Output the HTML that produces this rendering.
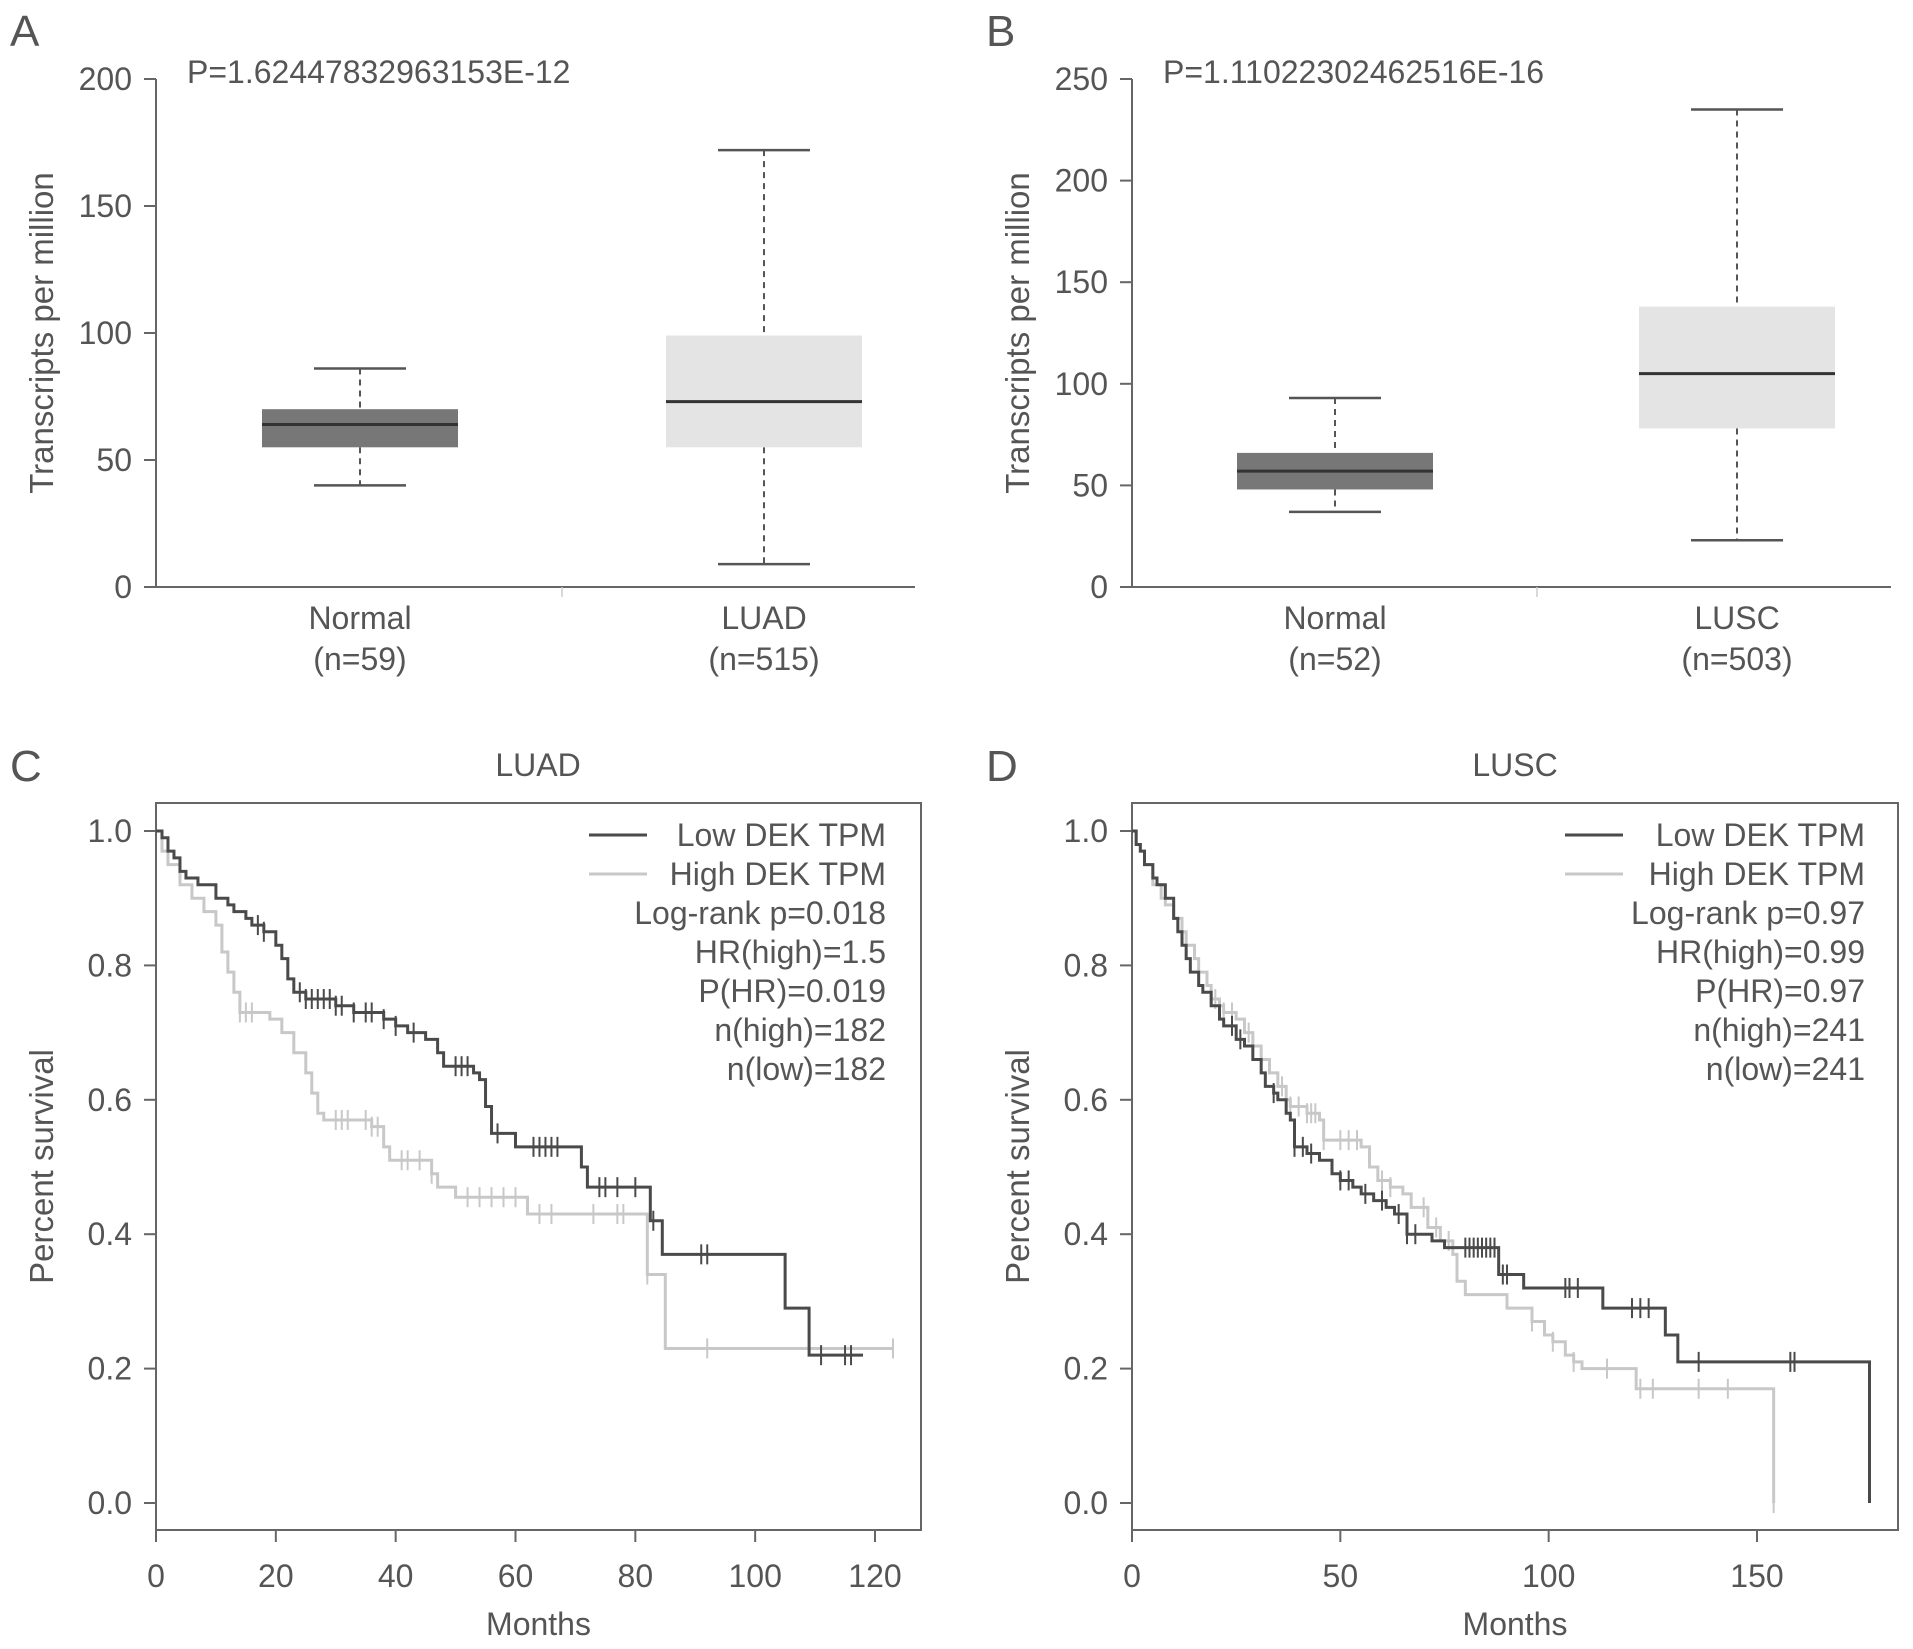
<!DOCTYPE html>
<html><head><meta charset="utf-8"><title>DEK expression and survival</title>
<style>
html,body{margin:0;padding:0;background:#fff;}
svg{display:block;font-family:"Liberation Sans",Arial,sans-serif;}
</style></head>
<body>
<svg id="fig" width="1913" height="1649" viewBox="0 0 1913 1649" xmlns="http://www.w3.org/2000/svg"></svg>
<script>
// ---------- DATA ----------
const boxCatsA = ["Normal", "LUAD"];
const boxNA = ["(n=59)", "(n=515)"];
const boxQ1A = [55, 55];
const boxMedA = [64, 73];
const boxQ3A = [70, 99];
const boxLoA = [40, 9];
const boxHiA = [86, 172];
const ticksA = [0, 50, 100, 150, 200];

const boxCatsB = ["Normal", "LUSC"];
const boxNB = ["(n=52)", "(n=503)"];
const boxQ1B = [48, 78];
const boxMedB = [57, 105];
const boxQ3B = [66, 138];
const boxLoB = [37, 23];
const boxHiB = [93, 235];
const ticksB = [0, 50, 100, 150, 200, 250];

const survTicks = [0, 0.2, 0.4, 0.6, 0.8, 1.0];
const monthTicksC = [0, 20, 40, 60, 80, 100, 120];
const monthTicksD = [0, 50, 100, 150];

const cLowT = [0,1,2,3,4,5,7,10,12,13,15,16,18,20,21,22,23,25,30,33,38,40,42,45,47,48,53,54,55,56,60,71,72,82.5,84.5,105,109];
const cLowS = [1,0.99,0.97,0.96,0.94,0.93,0.92,0.90,0.89,0.88,0.87,0.86,0.85,0.83,0.81,0.78,0.76,0.75,0.74,0.73,0.72,0.71,0.70,0.69,0.67,0.65,0.64,0.63,0.59,0.55,0.53,0.50,0.47,0.42,0.37,0.29,0.22];
const cLowEnd = 118;
const cLowCens = [17,18,24,25,26,27,28,29,30,31,33,35,36,38,40,43,50,51,52,57,63,64,65,66,67,74,75,77,80,83,91,92,111,115,116];

const cHighT = [0,1,2,4,6,8,10,11,12,13,14,19,21,23,25,26,27,28,36,38,39,46,47,50,62,82,85];
const cHighS = [1,0.97,0.95,0.92,0.90,0.88,0.86,0.82,0.79,0.76,0.73,0.72,0.70,0.67,0.64,0.61,0.58,0.57,0.56,0.53,0.51,0.49,0.47,0.455,0.43,0.34,0.23];
const cHighEnd = 123;
const cHighCens = [14,15,16,30,31,32,35,36,37,41,42,44,46,52,54,56,58,60,64,66,73,77,78,82,92,123];

const dLowT = [0,1,2,3,5,6,8,10,11,12,13,14,16,17,19,21,22,25,27,29,31,32,34,35,37,38,39,42,45,48,50,53,55,58,61,63,66,72,75,88,94,113,128,131,177];
const dLowS = [1,0.98,0.97,0.95,0.93,0.92,0.90,0.87,0.85,0.83,0.81,0.79,0.77,0.76,0.74,0.72,0.71,0.69,0.68,0.66,0.64,0.62,0.61,0.60,0.58,0.57,0.53,0.52,0.51,0.49,0.48,0.47,0.46,0.45,0.44,0.43,0.40,0.39,0.38,0.34,0.32,0.29,0.25,0.21,0];
const dLowEnd = 177;
const dLowCens = [24,26,34,39,41,43,50,52,56,60,64,66,68,80,81,82,83,84,85,86,87,89,90,104,105,107,120,122,124,136,158,159];

const dHighT = [0,1,2,3,5,7,8,10,12,13,15,16,18,19,21,22,25,27,29,31,33,35,37,38,42,45,46,55,57,59,62,65,67,71,74,77,78,80,90,96,99,101,104,106,108,121,154];
const dHighS = [1,0.98,0.97,0.95,0.92,0.90,0.89,0.87,0.85,0.83,0.81,0.79,0.77,0.75,0.74,0.73,0.72,0.70,0.68,0.66,0.64,0.62,0.60,0.59,0.58,0.57,0.54,0.53,0.50,0.48,0.47,0.46,0.44,0.41,0.39,0.37,0.33,0.31,0.29,0.27,0.25,0.24,0.22,0.21,0.20,0.17,0];
const dHighEnd = 154;
const dHighCens = [20,22,24,28,36,38,40,42,43,44,46,50,52,54,60,62,70,73,76,96,101,106,114,122,125,136,143,154];

const legC = ["Log-rank p=0.018","HR(high)=1.5","P(HR)=0.019","n(high)=182","n(low)=182"];
const legD = ["Log-rank p=0.97","HR(high)=0.99","P(HR)=0.97","n(high)=241","n(low)=241"];

// ---------- helpers ----------
const NS = "http://www.w3.org/2000/svg";
const svg = document.getElementById("fig");
const TXT = "#555", AX = "#666", DARK = "#4a4a4a", LIGHT = "#c8c8c8";
const FS = 32;
function el(tag, attrs, parent, text){
  const e = document.createElementNS(NS, tag);
  for (const k in attrs) e.setAttribute(k, attrs[k]);
  if (text !== undefined) e.textContent = text;
  (parent || svg).appendChild(e);
  return e;
}
function group(name){
  const g = el("g", {}, svg);
  
  
  return g;
}
function label(parent, name, x, y, txt, size, anchor, extra){
  const t = el("text", Object.assign({x:x, y:y, "font-size":size, fill:TXT, "text-anchor":anchor||"start"}, extra||{}), parent, txt);
  
  
  return t;
}

// ---------- box plot ----------
function boxPanel(o){
  const g = group(o.name);
  const y = v => o.y0 - (v / o.vmax) * (o.y0 - o.yTop);
  label(g, "panel-letter", o.letterX, 46, o.letter, 44);
  label(g, "p-value", o.pX, 83, o.pText, FS);
  const ax = el("line", {x1:o.ax, y1:y(o.vmax), x2:o.ax, y2:o.y0, stroke:AX, "stroke-width":2}, g);
  
  
  const xa = el("line", {x1:o.ax, y1:o.y0, x2:o.axEnd, y2:o.y0, stroke:AX, "stroke-width":2}, g);
  
  
  el("line", {x1:o.sep, y1:o.y0, x2:o.sep, y2:o.y0+10, stroke:"#ccc", "stroke-width":1.5}, g);
  o.ticks.forEach(t => {
    el("line", {x1:o.ax-12, y1:y(t), x2:o.ax, y2:y(t), stroke:AX, "stroke-width":2}, g);
    label(g, "y-tick-label", o.ax-24, y(t)+11, String(t), FS, "end");
  });
  label(g, "y-axis-title", 0, 0, "Transcripts per million", 33, "middle", {transform:`translate(${o.titleX},${(o.y0+y(o.vmax))/2}) rotate(-90)`});
  o.cats.forEach((c, i) => {
    const cx = o.cx[i], hw = 98, cw = 46;
    const fill = i === 0 ? "#777" : "#e4e4e4";
    const w1 = el("line", {x1:cx, y1:y(o.hi[i]), x2:cx, y2:y(o.q3[i]), stroke:"#555", "stroke-width":2, "stroke-dasharray":"6,5"}, g);
    
    
    const w2 = el("line", {x1:cx, y1:y(o.q1[i]), x2:cx, y2:y(o.lo[i]), stroke:"#555", "stroke-width":2, "stroke-dasharray":"6,5"}, g);
    
    
    el("line", {x1:cx-cw, y1:y(o.hi[i]), x2:cx+cw, y2:y(o.hi[i]), stroke:"#555", "stroke-width":2.5}, g);
    el("line", {x1:cx-cw, y1:y(o.lo[i]), x2:cx+cw, y2:y(o.lo[i]), stroke:"#555", "stroke-width":2.5}, g);
    const b = el("rect", {x:cx-hw, y:y(o.q3[i]), width:2*hw, height:y(o.q1[i])-y(o.q3[i]), fill:fill}, g);
    
    
    const m = el("line", {x1:cx-hw, y1:y(o.med[i]), x2:cx+hw, y2:y(o.med[i]), stroke:"#333", "stroke-width":3}, g);
    
    
    label(g, "x-category-label", cx, 629, c, FS, "middle");
    label(g, "x-category-n", cx, 670, o.n[i], FS, "middle");
  });
}
boxPanel({name:"panel-a-boxplot", letter:"A", letterX:10, pX:187, pText:"P=1.62447832963153E-12", ax:156, axEnd:915, sep:562, y0:587, yTop:79, vmax:200, ticks:ticksA, titleX:53, cats:boxCatsA, n:boxNA, cx:[360,764], q1:boxQ1A, med:boxMedA, q3:boxQ3A, lo:boxLoA, hi:boxHiA});
boxPanel({name:"panel-b-boxplot", letter:"B", letterX:986, pX:1163, pText:"P=1.11022302462516E-16", ax:1132, axEnd:1891, sep:1537, y0:587, yTop:79, vmax:250, ticks:ticksB, titleX:1029, cats:boxCatsB, n:boxNB, cx:[1335,1737], q1:boxQ1B, med:boxMedB, q3:boxQ3B, lo:boxLoB, hi:boxHiB});

// ---------- KM ----------
function kmPanel(o){
  const g = group(o.name);
  const X = m => o.x0 + m * o.ppm;
  const Y = s => 1503 - s * (1503 - 831);
  label(g, "panel-letter", o.letterX, 781, o.letter, 44);
  label(g, "chart-title", o.titleX, 776, o.title, FS, "middle");
  const fr = el("rect", {x:o.left, y:803, width:o.right-o.left, height:727, fill:"none", stroke:AX, "stroke-width":2}, g);
  
  
  survTicks.forEach(t => {
    el("line", {x1:o.left-12, y1:Y(t), x2:o.left, y2:Y(t), stroke:AX, "stroke-width":2}, g);
    label(g, "y-tick-label", o.left-24, Y(t)+11, t.toFixed(1), FS, "end");
  });
  el("line", {x1:X(o.xt[0]), y1:1530, x2:X(o.xt[o.xt.length-1]), y2:1530, stroke:AX, "stroke-width":2}, g);
  o.xt.forEach(t => {
    el("line", {x1:X(t), y1:1530, x2:X(t), y2:1542, stroke:AX, "stroke-width":2}, g);
    label(g, "x-tick-label", X(t), 1587, String(t), FS, "middle");
  });
  label(g, "x-axis-title", (o.left+o.right)/2, 1635, "Months", FS, "middle");
  label(g, "y-axis-title", 0, 0, "Percent survival", 33, "middle", {transform:`translate(${o.left-103},${(803+1530)/2}) rotate(-90)`});
  function curve(T, S, end, cens, color, w, name){
    let d = `M${X(T[0])},${Y(S[0])}`;
    for (let i = 1; i < T.length; i++) d += ` H${X(T[i])} V${Y(S[i])}`;
    d += ` H${X(end)}`;
    const p = el("path", {d:d, fill:"none", stroke:color, "stroke-width":w}, g);
    
    
    cens.forEach(c => {
      let s = S[0];
      for (let i = 0; i < T.length; i++) if (T[i] <= c) s = S[i];
      const m = el("line", {x1:X(c), y1:Y(s)-10, x2:X(c), y2:Y(s)+10, stroke:color, "stroke-width":2}, g);
      
      
    });
  }
  curve(o.hT, o.hS, o.hEnd, o.hC, LIGHT, 3, "high-dek-curve");
  curve(o.lT, o.lS, o.lEnd, o.lC, DARK, 3, "low-dek-curve");
  const lg = el("g", {}, g);
  
  
  const l1 = el("line", {x1:o.legX1, y1:835, x2:o.legX1+58, y2:835, stroke:DARK, "stroke-width":3}, lg);
  
  
  const l2 = el("line", {x1:o.legX1, y1:874, x2:o.legX1+58, y2:874, stroke:LIGHT, "stroke-width":3}, lg);
  
  
  label(lg, "legend-entry-low", o.legR, 846, "Low DEK TPM", FS, "end");
  label(lg, "legend-entry-high", o.legR, 885, "High DEK TPM", FS, "end");
  o.stats.forEach((s, i) => label(lg, "legend-stat", o.legR, 924 + i*39, s, FS, "end"));
}
kmPanel({name:"panel-c-km-luad", letter:"C", letterX:10, title:"LUAD", titleX:538, left:156, right:921, x0:156, ppm:(875-156)/120, xt:monthTicksC,
  lT:cLowT, lS:cLowS, lEnd:cLowEnd, lC:cLowCens, hT:cHighT, hS:cHighS, hEnd:cHighEnd, hC:cHighCens, legX1:589, legR:886, stats:legC});
kmPanel({name:"panel-d-km-lusc", letter:"D", letterX:986, title:"LUSC", titleX:1515, left:1132, right:1898, x0:1132, ppm:(1757-1132)/150, xt:monthTicksD,
  lT:dLowT, lS:dLowS, lEnd:dLowEnd, lC:dLowCens, hT:dHighT, hS:dHighS, hEnd:dHighEnd, hC:dHighCens, legX1:1565, legR:1865, stats:legD});
</script>
</body></html>
